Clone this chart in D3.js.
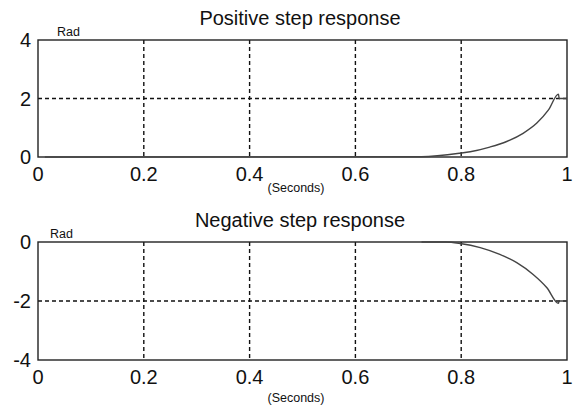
<!DOCTYPE html>
<html>
<head>
<meta charset="utf-8">
<script src="https://cdn.jsdelivr.net/npm/d3@7"></script>
<style>
  body { margin: 0; background: #fff; }
  svg { display: block; font-family: Arial, "Liberation Sans", sans-serif; }
</style>
</head>
<body>
<svg id="chart"></svg>
<script>
// time axis ticks (seconds)
const timeTicks = [0, 0.2, 0.4, 0.6, 0.8, 1];

// positive step response (rad)
const posTime = [0.013, 0.725, 0.798, 0.817, 0.854, 0.886, 0.917, 0.943, 0.965, 0.984, 0.985, 1.0];
const posRad  = [0, 0.01, 0.13, 0.18, 0.34, 0.53, 0.81, 1.16, 1.61, 2.15, 2.0, 2.0];
const posTicks = [0, 2, 4];

// negative step response (rad)
const negTime = [0.725, 0.771, 0.798, 0.836, 0.873, 0.905, 0.936, 0.962, 0.984, 0.985, 1.0];
const negRad  = [0, 0, -0.05, -0.19, -0.42, -0.70, -1.10, -1.55, -2.08, -2.0, -2.0];
const negTicks = [-4, -2, 0];

const width = 583, height = 407;
const svg = d3.select('#chart').attr('width', width).attr('height', height);

const x = d3.scaleLinear().domain([0, 1]).range([38, 567]);

// one panel = frame + dashed grid + curve + labels
function drawPanel(cfg) {
  const y = d3.scaleLinear().domain(cfg.domain).range([cfg.bottom, cfg.top]);
  const g = svg.append('g');

  // grid
  g.selectAll('.vgrid')
    .data(timeTicks.slice(1, -1))
    .join('line')
    .attr('x1', d => x(d)).attr('x2', d => x(d))
    .attr('y1', cfg.top).attr('y2', cfg.bottom)
    .attr('stroke', '#111').attr('stroke-width', 1.4)
    .attr('stroke-dasharray', '4,3');

  g.selectAll('.hgrid')
    .data(cfg.ticks.slice(1, -1))
    .join('line')
    .attr('x1', x(0)).attr('x2', x(1))
    .attr('y1', d => y(d)).attr('y2', d => y(d))
    .attr('stroke', '#111').attr('stroke-width', 1.4)
    .attr('stroke-dasharray', '4,3');

  // frame
  g.append('rect')
    .attr('x', x(0)).attr('y', cfg.top)
    .attr('width', x(1) - x(0)).attr('height', cfg.bottom - cfg.top)
    .attr('fill', 'none').attr('stroke', '#222').attr('stroke-width', 1.4);

  // response curve
  const pts = cfg.time.map((t, i) => [t, cfg.vals[i]]);
  g.append('path')
    .datum(pts)
    .attr('fill', 'none')
    .attr('stroke', '#444')
    .attr('stroke-width', 1.4)
    .attr('d', d3.line().curve(d3.curveMonotoneX)
      .x(d => x(d[0])).y(d => y(d[1])));

  // y tick labels
  g.selectAll('.ylab')
    .data(cfg.ticks)
    .join('text')
    .attr('x', 31).attr('y', d => y(d))
    .attr('dy', '0.36em')
    .attr('text-anchor', 'end')
    .attr('font-size', 20)
    .attr('fill', '#111')
    .text(d => d);

  // x tick labels
  g.selectAll('.xlab')
    .data(timeTicks)
    .join('text')
    .attr('x', d => x(d)).attr('y', cfg.bottom + 24)
    .attr('text-anchor', 'middle')
    .attr('font-size', 20)
    .attr('fill', '#111')
    .text(d => d);

  // title
  g.append('text')
    .attr('x', 300).attr('y', cfg.top - 15)
    .attr('text-anchor', 'middle')
    .attr('font-size', 20)
    .attr('fill', '#111')
    .text(cfg.title);

  // unit labels
  g.append('text')
    .attr('x', cfg.radX).attr('y', cfg.top - 4)
    .attr('font-size', 12.5)
    .attr('fill', '#111')
    .text('Rad');

  g.append('text')
    .attr('x', 296).attr('y', cfg.bottom + cfg.secOffset)
    .attr('text-anchor', 'middle')
    .attr('font-size', 12.5)
    .attr('fill', '#111')
    .text('(Seconds)');
}

drawPanel({
  title: 'Positive step response',
  domain: [0, 4], ticks: posTicks,
  time: posTime, vals: posRad,
  top: 40, bottom: 157, radX: 57, secOffset: 35
});

drawPanel({
  title: 'Negative step response',
  domain: [-4, 0], ticks: negTicks,
  time: negTime, vals: negRad,
  top: 242, bottom: 360, radX: 50, secOffset: 42
});
</script>
</body>
</html>
